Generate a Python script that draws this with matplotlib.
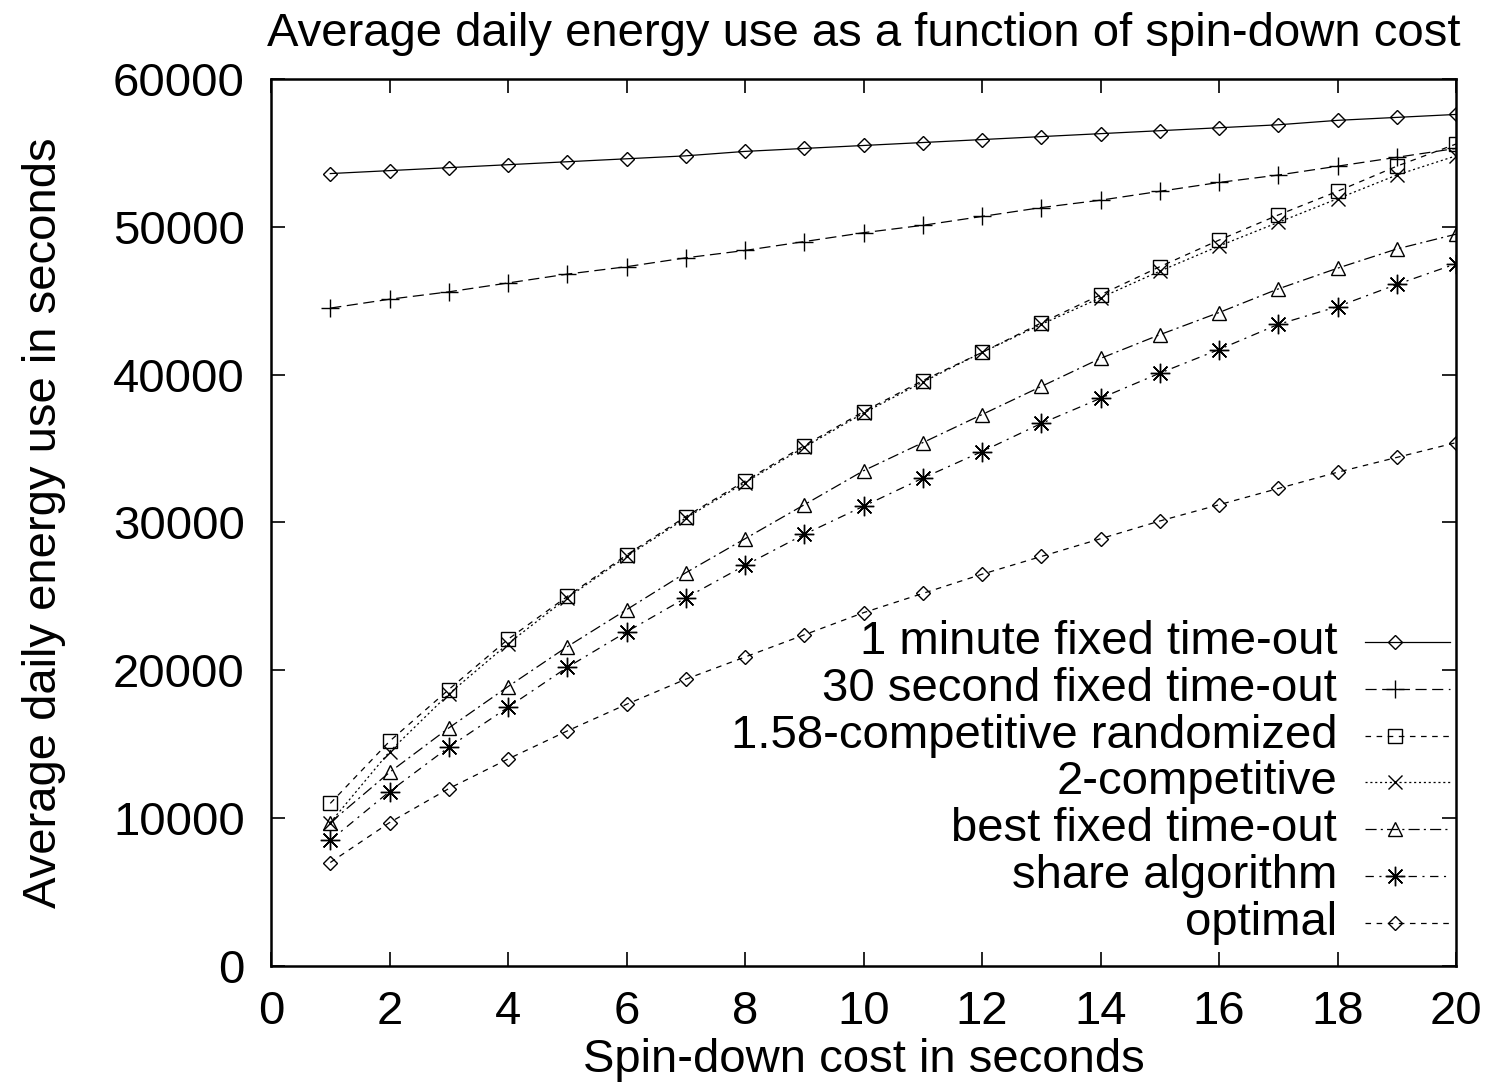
import matplotlib
matplotlib.use("Agg")
from matplotlib import pyplot as plt
from matplotlib.lines import Line2D

plt.rcParams['font.family'] = ['Liberation Sans', 'DejaVu Sans']
plt.rcParams['lines.scale_dashes'] = False

spin_cost = list(range(1, 21))

one_minute = [53.6, 53.8, 54.0, 54.2, 54.4, 54.6, 54.8, 55.1, 55.3, 55.5,
              55.7, 55.9, 56.1, 56.3, 56.5, 56.7, 56.9, 57.2, 57.4, 57.6]
thirty_sec = [44.5, 45.1, 45.6, 46.2, 46.8, 47.3, 47.9, 48.4, 49.0, 49.6,
              50.1, 50.7, 51.3, 51.8, 52.4, 53.0, 53.5, 54.1, 54.7, 55.3]
randomized = [11.0, 15.2, 18.7, 22.1, 25.0, 27.8, 30.4, 32.8, 35.2, 37.5,
              39.6, 41.5, 43.5, 45.4, 47.3, 49.1, 50.8, 52.4, 54.1, 55.6]
two_comp = [9.7, 14.5, 18.4, 21.8, 24.9, 27.7, 30.3, 32.7, 35.1, 37.4,
            39.5, 41.5, 43.4, 45.2, 47.0, 48.7, 50.3, 51.9, 53.5, 54.8]
best_fixed = [9.7, 13.1, 16.1, 18.9, 21.6, 24.1, 26.6, 28.9, 31.2, 33.5,
              35.4, 37.3, 39.2, 41.1, 42.7, 44.2, 45.8, 47.2, 48.5, 49.5]
share = [8.5, 11.8, 14.8, 17.5, 20.2, 22.6, 24.9, 27.1, 29.2, 31.1,
         33.0, 34.8, 36.7, 38.4, 40.1, 41.7, 43.4, 44.6, 46.1, 47.5]
optimal = [7.0, 9.7, 12.0, 14.0, 15.9, 17.7, 19.4, 20.9, 22.4, 23.9,
           25.2, 26.5, 27.7, 28.9, 30.1, 31.2, 32.3, 33.4, 34.4, 35.4]

labels = ['1 minute fixed time-out', '30 second fixed time-out',
          '1.58-competitive randomized', '2-competitive',
          'best fixed time-out', 'share algorithm', 'optimal']
series = [one_minute, thirty_sec, randomized, two_comp, best_fixed, share, optimal]

# (marker, markersize, dashes)
styles = [
    ('D', 7, None),
    ('+', 13, (8, 4)),
    ('s', 10, (4, 4)),
    ('x', 10, (1.5, 2)),
    ('^', 10, (8, 3, 1.5, 3)),
    ((8, 2, 0), 14, (6, 4, 1.5, 4)),
    ('D', 7, (4, 4)),
]

fs = 34

fig = plt.figure(figsize=(15, 10.86), dpi=100)
ax = fig.add_axes([0.1807, 0.1105, 0.79, 0.8168])

for vals, (mk, ms, ds) in zip(series, styles):
    y = [v * 1000 for v in vals]
    line, = ax.plot(spin_cost, y, color='black', lw=0.9, marker=mk, ms=ms,
                    mfc='none', mec='black', mew=1.0)
    if ds is not None:
        line.set_dashes(ds)

ax.set_xlim(0, 20)
ax.set_ylim(0, 60000)
ax.set_xticks(range(0, 21, 2))
ax.set_yticks(range(0, 60001, 10000))
ax.tick_params(direction='in', length=10, width=1.2, labelsize=fs,
               top=True, right=True)
ax.tick_params(axis='x', pad=17)
ax.tick_params(axis='y', pad=19)
for sp in ax.spines.values():
    sp.set_linewidth(1.8)

ax.set_xlabel('Spin-down cost in seconds', fontsize=fs, labelpad=3)
ax.set_ylabel('Average daily energy use in seconds', fontsize=fs, labelpad=34)
ax.set_title('Average daily energy use as a function of spin-down cost',
             fontsize=fs, pad=24)

# gnuplot style key: right-aligned text, sample line to the right
x_text = 0.8996
x0, x1, xm = 0.923, 0.995, 0.9485
y_top = 0.3653
step = 0.0528
for i, (lab, (mk, ms, ds)) in enumerate(zip(labels, styles)):
    yy = y_top - i * step
    ax.text(x_text, yy, lab, transform=ax.transAxes, ha='right', va='center',
            fontsize=fs)
    ln = Line2D([x0, x1], [yy, yy], transform=ax.transAxes, color='black', lw=0.9)
    if ds is not None:
        ln.set_dashes(ds)
    ax.add_line(ln)
    ax.add_line(Line2D([xm], [yy], transform=ax.transAxes, marker=mk, ms=ms,
                       mfc='none', mec='black', mew=1.0, lw=0))

fig.savefig('out.png', dpi=100)
